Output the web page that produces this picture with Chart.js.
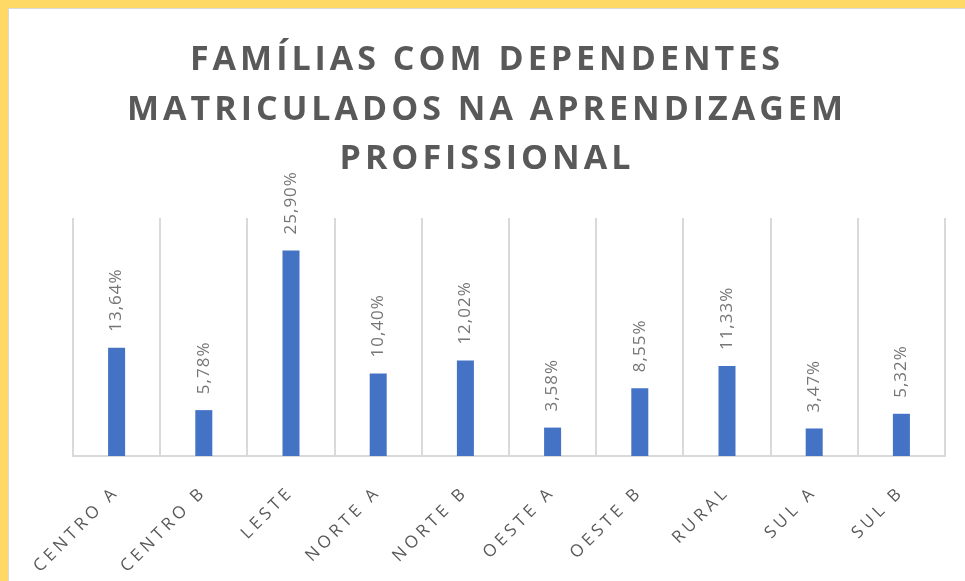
<!DOCTYPE html>
<html>
<head>
<meta charset="utf-8">
<script src="https://cdn.jsdelivr.net/npm/chart.js@4"></script>
<style>
  html, body { margin: 0; padding: 0; background: #FFD966; }
  #box {
    position: absolute; left: 8px; top: 8px; width: 957px; height: 573px;
    background: #fff; border-left: 1px solid #d9d9d9; border-top: 1px solid #d9d9d9;
    box-sizing: border-box;
  }
</style>
</head>
<body>
<div id="box"><canvas id="myChart"></canvas></div>
<script>
const ctx = document.querySelector('#myChart')

// dados
const regioes = ['CENTRO A', 'CENTRO B', 'LESTE', 'NORTE A', 'NORTE B', 'OESTE A', 'OESTE B', 'RURAL', 'SUL A', 'SUL B']
const percentuais = [13.64, 5.78, 25.90, 10.40, 12.02, 3.58, 8.55, 11.33, 3.47, 5.32]
const titulo = ['FAMÍLIAS COM DEPENDENTES', 'MATRICULADOS NA APRENDIZAGEM', 'PROFISSIONAL']

const cinza = '#595959'

// espaçamento entre letras (título e eixo)
const espacamento = {
    id: 'espacamento',
    beforeUpdate(chart) { chart.ctx.letterSpacing = '4px' },
    beforeDraw(chart) { chart.ctx.letterSpacing = '4px' }
}

// rótulos de valor na vertical acima das barras
const rotulos = {
    id: 'rotulos',
    afterDatasetsDraw(chart) {
        const c = chart.ctx
        const meta = chart.getDatasetMeta(0)
        c.save()
        c.letterSpacing = '1px'
        c.font = '17px "Open Sans"'
        c.fillStyle = '#767676'
        c.textAlign = 'left'
        c.textBaseline = 'middle'
        meta.data.forEach((bar, i) => {
            const txt = percentuais[i].toFixed(2).replace('.', ',') + '%'
            c.save()
            c.translate(bar.x, bar.y - 16)
            c.rotate(-Math.PI / 2)
            c.fillText(txt, 0, 0)
            c.restore()
        })
        c.restore()
    }
}

new Chart(ctx, {
    type: 'bar',
    data: {
        labels: regioes,
        datasets: [{
            data: percentuais,
            backgroundColor: '#4472C4',
            barPercentage: 0.195,
            categoryPercentage: 1
        }]
    },
    options: {
        responsive: true,
        maintainAspectRatio: false,
        animation: false,
        layout: { padding: 0 },
        plugins: {
            legend: { display: false },
            tooltip: { enabled: false },
            title: {
                display: true,
                text: titulo,
                color: cinza,
                font: { family: 'Open Sans', size: 34, weight: 'bold', lineHeight: 1.45 },
                padding: { top: 27, bottom: 34 }
            }
        },
        scales: {
            x: {
                grid: { color: '#d9d9d9', lineWidth: 2, drawTicks: false, offset: true },
                border: { color: '#d9d9d9', width: 2 },
                ticks: {
                    color: cinza,
                    font: { family: 'Open Sans', size: 17 },
                    minRotation: 45,
                    maxRotation: 45,
                    padding: 26
                },
                afterFit(scale) {
                    scale.paddingLeft = 64
                    scale.paddingRight = 20
                    scale.height = 125
                }
            },
            y: {
                display: false,
                min: 0,
                max: 30
            }
        }
    },
    plugins: [espacamento, rotulos]
})
</script>
</body>
</html>
